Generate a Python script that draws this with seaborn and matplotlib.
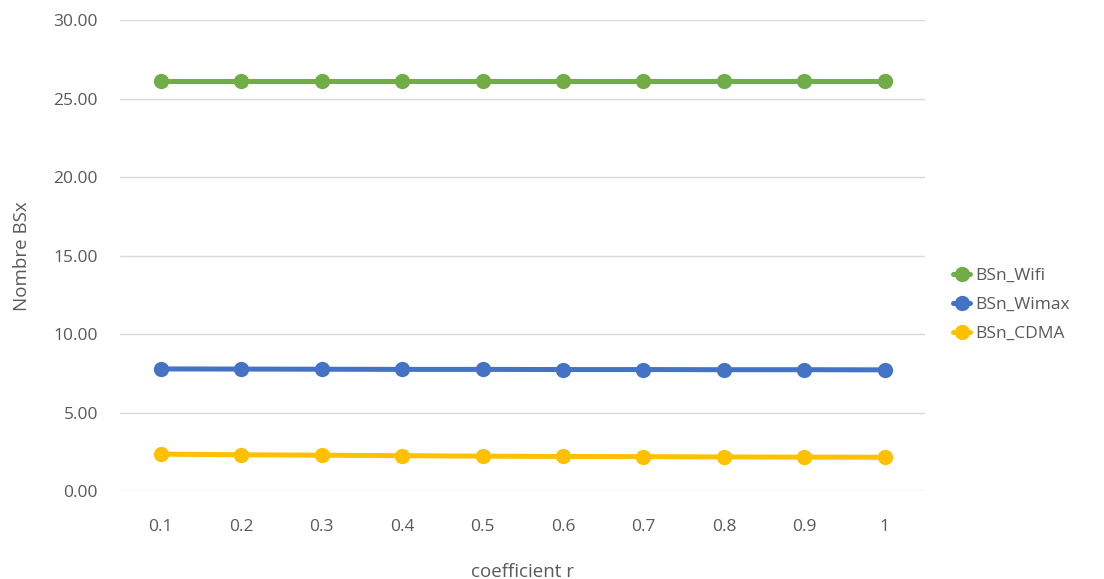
import pandas as pd
import seaborn as sns
import matplotlib.pyplot as plt

# Values
coef_r = ['0.1', '0.2', '0.3', '0.4', '0.5', '0.6', '0.7', '0.8', '0.9', '1']
bsn_wifi = [26.15, 26.15, 26.15, 26.15, 26.15, 26.15, 26.15, 26.15, 26.15, 26.15]
bsn_wimax = [7.78, 7.77, 7.76, 7.75, 7.75, 7.74, 7.74, 7.73, 7.73, 7.72]
bsn_cdma = [2.35, 2.31, 2.28, 2.25, 2.22, 2.20, 2.19, 2.17, 2.16, 2.15]

series = {'BSn_Wifi': bsn_wifi, 'BSn_Wimax': bsn_wimax, 'BSn_CDMA': bsn_cdma}
colors = {'BSn_Wifi': '#70AD47', 'BSn_Wimax': '#4472C4', 'BSn_CDMA': '#FFC000'}

df = pd.concat([pd.DataFrame({'r': coef_r, 'value': v, 'serie': k}) for k, v in series.items()])

sns.set_style("white")
plt.rcParams['font.family'] = ['Open Sans', 'DejaVu Sans']

fig = plt.figure(figsize=(11.04, 5.79), dpi=100)
ax = fig.add_axes([0.109, 0.152, 0.729, 0.813])

sns.lineplot(data=df, x='r', y='value', hue='serie', palette=colors, marker='o',
             markersize=11, linewidth=3.6, markeredgewidth=0, ax=ax, sort=False)

ax.set_xlim(-0.5, 9.5)
ax.set_ylim(0, 30)
ax.set_yticks(range(0, 31, 5))
ax.set_yticklabels([f"{t:.2f}" for t in range(0, 31, 5)])
ax.yaxis.grid(True, color='#d9d9d9', linewidth=1)
for s in ax.spines.values():
    s.set_visible(False)
ax.tick_params(axis='both', length=0, labelsize=12.5, labelcolor='#595959')
ax.tick_params(axis='x', pad=20)
ax.tick_params(axis='y', pad=16)

ax.set_xlabel('coefficient r', fontsize=13.5, color='#595959', labelpad=20)
ax.set_ylabel('Nombre BSx', fontsize=13.5, color='#595959', labelpad=16)

handles, labels = ax.get_legend_handles_labels()
ax.legend(handles, labels, loc='center left', bbox_to_anchor=(1.015, 0.395), frameon=False,
          fontsize=12.5, labelcolor='#595959', handlelength=1.0, handletextpad=0.3,
          labelspacing=0.75)

plt.savefig('out.png', dpi=100)
